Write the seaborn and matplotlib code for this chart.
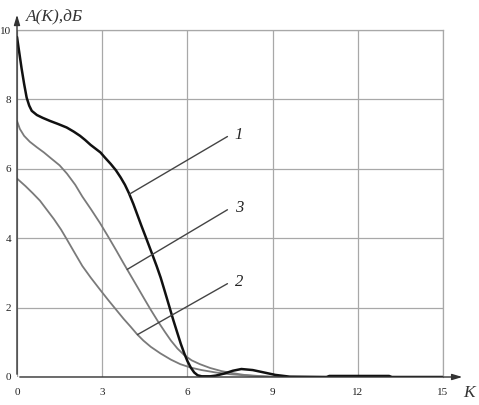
import numpy as np
import pandas as pd
import matplotlib
matplotlib.use("Agg")
import matplotlib.pyplot as plt
import seaborn as sns

# ----------------------------------------------------------------
# data
# ----------------------------------------------------------------
k1 = [0, 0.08, 0.16, 0.25, 0.34, 0.43, 0.52, 0.7, 0.9, 1.16, 1.45, 1.75, 2.0,
      2.22, 2.4, 2.59, 2.94, 3.1, 3.3, 3.48, 3.65, 3.8, 3.94, 4.1, 4.24, 4.38,
      4.53, 4.65, 4.77, 4.92, 5.06, 5.2, 5.36, 5.5, 5.65, 5.77, 5.89, 6.0,
      6.12, 6.24, 6.36, 6.5, 6.8, 7.0, 7.3, 7.6, 7.9, 8.3, 8.7, 9.1, 9.6,
      10.9, 11.0, 13.1, 13.2, 15]
a1 = [9.8, 9.35, 8.9, 8.45, 8.05, 7.82, 7.67, 7.55, 7.47, 7.38, 7.29, 7.19, 7.07,
      6.95, 6.83, 6.69, 6.47, 6.32, 6.14, 5.96, 5.75, 5.54, 5.3, 4.98, 4.67, 4.36,
      4.04, 3.78, 3.52, 3.19, 2.86, 2.48, 2.04, 1.65, 1.26, 0.95, 0.68, 0.46,
      0.27, 0.13, 0.05, 0.02, 0.02, 0.04, 0.1, 0.18, 0.23, 0.2, 0.13, 0.06, 0.01,
      0.0, 0.03, 0.03, 0.0, 0.0]

k3 = [0, 0.1, 0.25, 0.45, 0.7, 0.95, 1.2, 1.5, 1.76, 2.05, 2.3, 2.6, 2.92,
      3.2, 3.5, 3.75, 4.0, 4.25, 4.47, 4.7, 4.95, 5.2, 5.42, 5.65, 5.89, 6.15,
      6.44, 6.8, 7.2, 7.6, 8.0, 8.5, 9.0, 9.5, 15]
a3 = [7.38, 7.15, 6.95, 6.78, 6.62, 6.47, 6.3, 6.1, 5.86, 5.54, 5.2, 4.84, 4.44,
      4.06, 3.64, 3.28, 2.93, 2.58, 2.27, 1.95, 1.62, 1.31, 1.05, 0.82, 0.63, 0.48,
      0.37, 0.26, 0.17, 0.11, 0.06, 0.03, 0.01, 0.0, 0.0]

k2 = [0, 0.3, 0.55, 0.81, 1.05, 1.3, 1.55, 1.76, 2.0, 2.3, 2.6, 2.94, 3.2,
      3.5, 3.75, 4.0, 4.23, 4.45, 4.71, 5.05, 5.42, 5.75, 6.12, 6.5, 7.0, 7.5,
      8.0, 8.5, 9.0, 15]
a2 = [5.72, 5.5, 5.3, 5.08, 4.82, 4.55, 4.25, 3.96, 3.62, 3.2, 2.86, 2.5, 2.23,
      1.93, 1.68, 1.45, 1.23, 1.05, 0.87, 0.68, 0.5, 0.37, 0.27, 0.2, 0.13, 0.08,
      0.05, 0.02, 0.0, 0.0]

curve_labels = ["1", "3", "2"]
pointer_from = [(3.96, 5.27), (3.88, 3.1), (4.24, 1.22)]
pointer_to = [(7.41, 6.93), (7.41, 4.82), (7.41, 2.69)]

x_ticks = [0, 3, 6, 9, 12, 15]
y_ticks = [0, 2, 4, 6, 8, 10]

df = pd.concat([
    pd.DataFrame({"K": k1, "A": a1, "curve": "1"}),
    pd.DataFrame({"K": k3, "A": a3, "curve": "3"}),
    pd.DataFrame({"K": k2, "A": a2, "curve": "2"}),
])

# ----------------------------------------------------------------
# plot
# ----------------------------------------------------------------
sns.set_style("white")
plt.rcParams["font.family"] = ["Liberation Serif", "DejaVu Serif"]

GRID = "#a8a8a8"
fig = plt.figure(figsize=(4.79, 4.05), dpi=100)
ax = fig.add_axes([17 / 479, 28 / 405, 426 / 479, 347 / 405])

for name, col, lw in [("2", "#7a7a7a", 1.3), ("3", "#7a7a7a", 1.3), ("1", "#111111", 1.8)]:
    sns.lineplot(data=df[df["curve"] == name], x="K", y="A", color=col,
                 linewidth=lw, ax=ax, sort=False, legend=False)

ax.set_xlim(0, 15)
ax.set_ylim(0, 10)
ax.set_xticks(x_ticks)
ax.set_yticks(y_ticks)
ax.set_xlabel("")
ax.set_ylabel("")
ax.grid(True, color=GRID, linewidth=0.9)
ax.tick_params(length=0, labelsize=8, colors="#222222")
ax.tick_params(axis="x", pad=8)
ax.tick_params(axis="y", pad=4)

for side in ["top", "right"]:
    ax.spines[side].set_color(GRID)
    ax.spines[side].set_linewidth(0.9)
for side in ["left", "bottom"]:
    ax.spines[side].set_visible(False)

# axis arrows
arrow = dict(arrowstyle="-|>,head_length=0.6,head_width=0.18", color="#333333", lw=1.0)
ax.annotate("", xy=(0, 1.052), xytext=(0, 0), xycoords="axes fraction",
            arrowprops=arrow, annotation_clip=False)
ax.annotate("", xy=(1.052, 0), xytext=(0, 0), xycoords="axes fraction",
            arrowprops=arrow, annotation_clip=False)

# pointer lines with curve numbers
for lab, p0, p1 in zip(curve_labels, pointer_from, pointer_to):
    ax.plot([p0[0], p1[0]], [p0[1], p1[1]], color="#444444", linewidth=1.0)
    ax.text(p1[0] + 0.25, p1[1] + 0.05, lab, fontsize=12, style="italic",
            ha="left", va="center", color="#222222")

ax.text(0.02, 1.036, "A(K),дБ", transform=ax.transAxes, fontsize=12.5,
        style="italic", ha="left", va="center", color="#333333")
ax.text(1.06, -0.045, "K", transform=ax.transAxes, fontsize=12.5,
        style="italic", ha="center", va="center", color="#333333")

plt.savefig("out.png", dpi=100)
